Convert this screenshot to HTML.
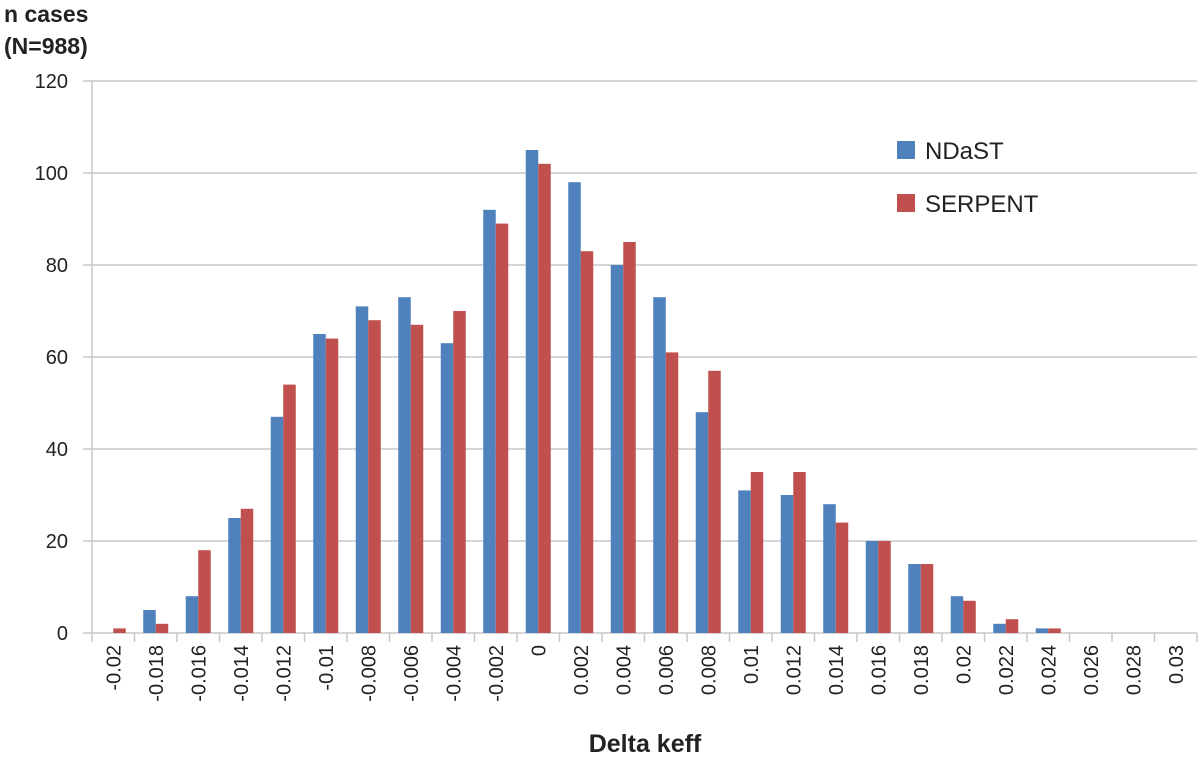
<!DOCTYPE html>
<html><head><meta charset="utf-8"><style>
body{margin:0;background:#fff;width:1200px;height:759px;overflow:hidden}
text{font-family:"Liberation Sans",Arial,sans-serif}
</style></head><body>
<svg id="chart" width="1200" height="759" xmlns="http://www.w3.org/2000/svg">
<text x="4" y="22" font-size="23" font-weight="bold" fill="#222">n cases</text>
<text x="4" y="54" font-size="23" font-weight="bold" fill="#222">(N=988)</text>
<text x="645" y="752" font-size="25" font-weight="bold" fill="#222" text-anchor="middle">Delta keff</text>
<g id="grid"></g><g id="bars"></g><g id="axes"></g>
<g>
<rect x="897" y="141" width="18" height="18" fill="#4F81BD"/>
<text x="925" y="159" font-size="24" fill="#222">NDaST</text>
<rect x="897" y="194" width="18" height="18" fill="#C0504D"/>
<text x="925" y="212" font-size="24" fill="#222">SERPENT</text>
</g>
</svg>
<script>
const categories=["-0.02","-0.018","-0.016","-0.014","-0.012","-0.01","-0.008","-0.006","-0.004","-0.002","0","0.002","0.004","0.006","0.008","0.01","0.012","0.014","0.016","0.018","0.02","0.022","0.024","0.026","0.028","0.03"];
const ndast=[0,5,8,25,47,65,71,73,63,92,105,98,80,73,48,31,30,28,20,15,8,2,1,0,0,0];
const serpent=[1,2,18,27,54,64,68,67,70,89,102,83,85,61,57,35,35,24,20,15,7,3,1,0,0,0];
const yTicks=[0,20,40,60,80,100,120];
const NS="http://www.w3.org/2000/svg";
const X0=92,X1=1197,Y0=633,Y1=81,YMAX=120;
const step=(X1-X0)/categories.length;
const y=v=>Y0-(v/YMAX)*(Y0-Y1);
const x=i=>X0+i*step;
function mk(tag,attrs,parent){const e=document.createElementNS(NS,tag);for(const k in attrs)e.setAttribute(k,attrs[k]);parent.appendChild(e);return e;}
const grid=document.getElementById('grid'),bars=document.getElementById('bars'),axes=document.getElementById('axes');
yTicks.forEach(t=>{
 const l=mk('line',{x1:83,x2:X1,y1:y(t),y2:y(t),stroke:'#c8c8c8','stroke-width':1.5},grid);
 
 
 const tx=mk('text',{x:68,y:y(t)+7,'font-size':20,'text-anchor':'end',fill:'#222'},axes);
 tx.textContent=t;
 
 
});
const al=mk('line',{x1:X0,x2:X0,y1:Y1,y2:Y0+9,stroke:'#c8c8c8','stroke-width':1.5},axes);


const bw=12.5;
categories.forEach((c,i)=>{
 const cx=x(i)+step/2;
 const tk=mk('line',{x1:x(i+1),x2:x(i+1),y1:Y0,y2:Y0+9,stroke:'#c8c8c8','stroke-width':1.5},axes);
 
 
 const b1=mk('rect',{x:cx-bw,y:y(ndast[i]),width:bw,height:Y0-y(ndast[i]),fill:'#4F81BD'},bars);
 
 
 const b2=mk('rect',{x:cx,y:y(serpent[i]),width:bw,height:Y0-y(serpent[i]),fill:'#C0504D'},bars);
 
 
 const t=mk('text',{x:0,y:0,'font-size':20,'text-anchor':'end',fill:'#222',transform:`translate(${cx+7},645) rotate(-90)`},axes);
 t.textContent=c;
 
 
});
</script>
</body></html>
